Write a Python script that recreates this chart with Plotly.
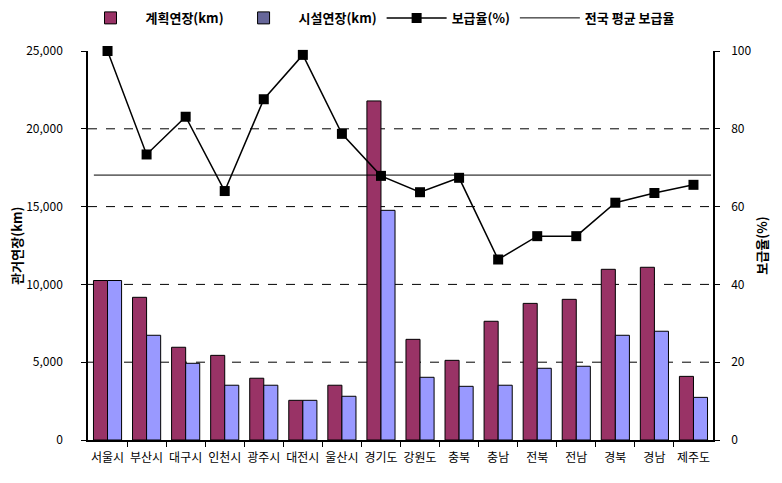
import plotly.graph_objects as go

categories = ["서울시", "부산시", "대구시", "인천시", "광주시", "대전시", "울산시", "경기도",
              "강원도", "충북", "충남", "전북", "전남", "경북", "경남", "제주도"]
planned_km = [10250, 9170, 5960, 5440, 3970, 2550, 3520, 21790,
              6470, 5120, 7630, 8780, 9040, 10970, 11100, 4090]
facility_km = [10250, 6730, 4930, 3520, 3520, 2550, 2810, 14760,
               4030, 3450, 3520, 4610, 4740, 6730, 6990, 2740]
coverage_pct = [100.0, 73.4, 83.1, 64.0, 87.6, 99.0, 78.7, 67.9,
                63.7, 67.4, 46.4, 52.4, 52.4, 61.0, 63.5, 65.6]
national_avg_pct = 68.1
left_ticks = [0, 5000, 10000, 15000, 20000, 25000]
right_ticks = [0, 20, 40, 60, 80, 100]

xs = list(range(len(categories)))
FONT = "Noto Sans CJK KR, Gulim, sans-serif"

fig = go.Figure()
# legend-only swatches (legend colours differ slightly from bars in the reference)
fig.add_trace(go.Bar(x=[None], y=[None], name="계획연장(km)", marker=dict(color="#993366", line=dict(color="black", width=1))))
fig.add_trace(go.Bar(x=[None], y=[None], name="시설연장(km)", marker=dict(color="#666699", line=dict(color="black", width=1))))

fig.add_trace(go.Bar(x=xs, y=planned_km, showlegend=False, offsetgroup="a",
                     marker=dict(color="#993366", line=dict(color="black", width=1))))
fig.add_trace(go.Bar(x=xs, y=facility_km, showlegend=False, offsetgroup="b",
                     marker=dict(color="#9999FF", line=dict(color="black", width=1))))
fig.add_trace(go.Scatter(x=xs, y=coverage_pct, yaxis="y2", name="보급율(%)", mode="lines+markers",
                         line=dict(color="black", width=1.5),
                         marker=dict(symbol="square", size=10, color="black"), cliponaxis=False))
fig.add_trace(go.Scatter(x=[xs[0] - 0.35, xs[-1] + 0.45], y=[national_avg_pct] * 2, yaxis="y2",
                         name="전국 평균 보급율", mode="lines", line=dict(color="black", width=1)))

for v in left_ticks[1:-1]:
    fig.add_shape(type="line", xref="paper", x0=0, x1=1, yref="y", y0=v, y1=v,
                  line=dict(color="black", width=1, dash="dash"), layer="below")

fig.update_layout(
    width=774, height=475,
    margin=dict(l=80, r=69, t=43, b=43, autoexpand=False),
    paper_bgcolor="white", plot_bgcolor="white",
    barmode="group", bargap=0.28, bargroupgap=0,
    font=dict(family=FONT, size=12, color="black"),
    xaxis=dict(range=[-0.5, len(categories) - 0.5], tickvals=xs, ticktext=categories,
               showgrid=False, showline=True, linecolor="black", linewidth=1.5,
               ticks="", tickfont=dict(size=12), ticklabelstandoff=6,
               minor=dict(tickvals=[i + 0.5 for i in xs[:-1]], ticks="outside", ticklen=5,
                          tickcolor="black", showgrid=False)),
    yaxis=dict(range=[0, 25000], tickvals=left_ticks, tickformat=",", showgrid=False,
               showline=True, linecolor="black", linewidth=1.5, ticks="outside", ticklen=5,
               tickcolor="black", zeroline=False, tickfont=dict(size=12), ticklabelstandoff=16),
    yaxis2=dict(range=[0, 100], tickvals=right_ticks, overlaying="y", side="right",
                showgrid=False, showline=True, linecolor="black", linewidth=1.5,
                ticks="outside", ticklen=5, tickcolor="black", zeroline=False,
                tickfont=dict(size=12), ticklabelstandoff=9),
    legend=dict(orientation="h", x=-0.02, y=1.085, xanchor="left", yanchor="middle",
                itemwidth=60,
                font=dict(size=13, family=FONT, weight="bold"), bgcolor="rgba(0,0,0,0)",
                traceorder="normal"),
    annotations=[
        dict(text="<b>관거연장(km)</b>", xref="paper", yref="paper", x=-0.115, y=0.5,
             xanchor="center", textangle=-90, showarrow=False, font=dict(size=13)),
        dict(text="<b>보급율(%)</b>", xref="paper", yref="paper", x=1.077, y=0.5,
             xanchor="center", textangle=-90, showarrow=False, font=dict(size=13)),
    ],
)

fig.write_html("out.html")
